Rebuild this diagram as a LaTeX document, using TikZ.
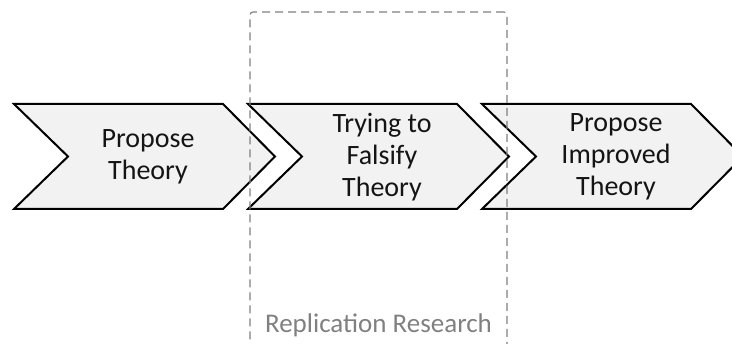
\documentclass[tikz,border=0pt]{standalone}
\usepackage{fontspec}
\setmainfont{Carlito}
\begin{document}
\begin{tikzpicture}[x=1pt,y=-1pt,line join=miter,
	chev/.style={draw=black,line width=2pt,fill={rgb,255:red,242;green,242;blue,242}},
	nhan/.style={align=center,font=\fontsize{28}{32}\selectfont,text={rgb,255:red,20;green,20;blue,20}},
	khung/.style={draw={rgb,255:red,128;green,128;blue,128},line width=1.2pt,dash pattern=on 8pt off 5pt,rounded corners=3pt,minimum width=257pt,minimum height=338pt,inner sep=0pt}]
			\useasboundingbox (0,0) rectangle (732,344);
			\clip (0,0) rectangle (732,344);
			\foreach \x/\ten/\chu in {14/propose/{Propose\\Theory},248/falsify/{Trying to\\Falsify\\Theory},482/improved/{Propose\\Improved\\Theory}}{
				\draw[chev] (\x,104)--(\x+209,104)--(\x+261,156.5)--(\x+209,209)--(\x,209)--(\x+54,156.5)--cycle;
				\node[nhan] (\ten) at (\x+134,157) {\chu};
			}
			\node[khung] (repl) at (378.5,181) {};
			\node[font=\fontsize{27}{31}\selectfont,text={rgb,255:red,128;green,128;blue,128}] (repllabel) at (378.5,325) {Replication Research};
		\end{tikzpicture}
\end{document}
